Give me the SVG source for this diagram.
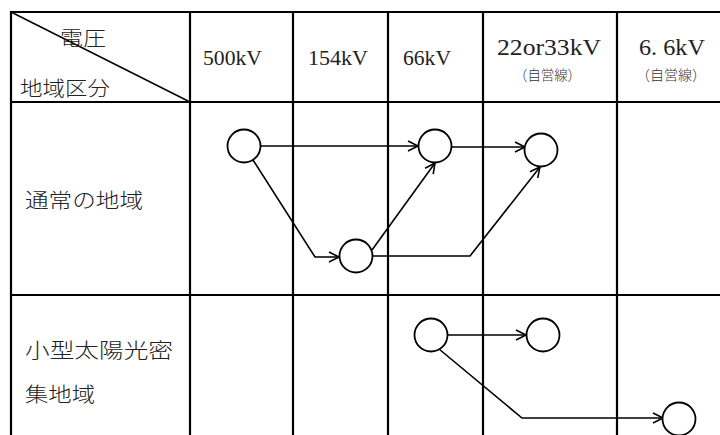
<svg xmlns="http://www.w3.org/2000/svg" width="720" height="435" viewBox="0 0 720 435">
<style>
.grid{stroke:#000;stroke-width:2.2;fill:none}
.diag{stroke:#000;stroke-width:1.4;fill:none}
.node{fill:#fff;stroke:#000;stroke-width:1.8}
.conn{stroke:#000;stroke-width:1.6;fill:none}
.jp{font-family:"Noto Sans CJK JP","Noto Sans",sans-serif;font-size:20px;font-weight:300;fill:#222}
.jps{font-family:"Noto Sans CJK JP","Noto Sans",sans-serif;font-size:14px;font-weight:300;fill:#333}
.num{font-family:"Liberation Serif","DejaVu Serif",serif;font-size:21px;fill:#222}
.numl{font-family:"Liberation Serif","DejaVu Serif",serif;font-size:24px;fill:#222}
</style>
<defs>
<marker id="arr" markerUnits="userSpaceOnUse" markerWidth="14" markerHeight="14" refX="11" refY="6" orient="auto">
<path d="M1,1 L11,6 L1,11" fill="none" stroke="#000" stroke-width="1.6"/>
</marker>
</defs>
<rect width="720" height="435" fill="#fff"/>
<g id="table">
<line class="grid" x1="10" y1="12" x2="720" y2="12"/>
<line class="grid" x1="10" y1="102" x2="720" y2="102"/>
<line class="grid" x1="10" y1="295" x2="720" y2="295"/>
<line class="grid" x1="11" y1="11" x2="11" y2="435"/>
<line class="grid" x1="190" y1="11" x2="190" y2="435"/>
<line class="grid" x1="293" y1="11" x2="293" y2="435"/>
<line class="grid" x1="388" y1="11" x2="388" y2="435"/>
<line class="grid" x1="483" y1="11" x2="483" y2="435"/>
<line class="grid" x1="617" y1="11" x2="617" y2="435"/>
<line class="diag" x1="11" y1="12" x2="190" y2="102"/>
<text class="jp" x="60" y="46" textLength="46" lengthAdjust="spacingAndGlyphs">電圧</text>
<text class="jp" x="20" y="96" textLength="90" lengthAdjust="spacingAndGlyphs">地域区分</text>
<text class="num" x="203" y="65" textLength="59" lengthAdjust="spacingAndGlyphs">500kV</text>
<text class="num" x="308" y="65" textLength="60" lengthAdjust="spacingAndGlyphs">154kV</text>
<text class="num" x="403" y="65" textLength="48" lengthAdjust="spacingAndGlyphs">66kV</text>
<text class="numl" x="497" y="55" textLength="104" lengthAdjust="spacingAndGlyphs">22or33kV</text>
<text class="jps" x="514" y="80" textLength="67" lengthAdjust="spacingAndGlyphs">（自営線）</text>
<text class="numl" x="639" y="55" textLength="66" lengthAdjust="spacingAndGlyphs">6. 6kV</text>
<text class="jps" x="636" y="80" textLength="70" lengthAdjust="spacingAndGlyphs">（自営線）</text>
<text class="jp" x="25" y="208" textLength="118" lengthAdjust="spacingAndGlyphs">通常の地域</text>
<text class="jp" x="25" y="358" textLength="148" lengthAdjust="spacingAndGlyphs">小型太陽光密</text>
<text class="jp" x="25" y="402" textLength="70" lengthAdjust="spacingAndGlyphs">集地域</text>
</g>
<g id="connectors">
<line class="conn" x1="260" y1="146" x2="418" y2="146" marker-end="url(#arr)"/>
<polyline class="conn" points="253,160 315,257 339,257" marker-end="url(#arr)"/>
<line class="conn" x1="372" y1="250" x2="435" y2="163" marker-end="url(#arr)"/>
<line class="conn" x1="452" y1="147" x2="525" y2="147" marker-end="url(#arr)"/>
<polyline class="conn" points="373,256 470,256 540,167" marker-end="url(#arr)"/>
<line class="conn" x1="447" y1="335" x2="526" y2="335" marker-end="url(#arr)"/>
<polyline class="conn" points="439,349 522,418 663,418" marker-end="url(#arr)"/>
</g>
<g id="n1"><circle class="node" cx="244" cy="146" r="16.5"/></g>
<g id="n2"><circle class="node" cx="435" cy="146" r="16.5"/></g>
<g id="n3"><circle class="node" cx="541" cy="150" r="16.5"/></g>
<g id="n4"><circle class="node" cx="356" cy="256" r="16.5"/></g>
<g id="n5"><circle class="node" cx="431" cy="335" r="16.5"/></g>
<g id="n6"><circle class="node" cx="543" cy="335" r="16.5"/></g>
<g id="n7"><circle class="node" cx="679" cy="419" r="16.5"/></g>
</svg>
